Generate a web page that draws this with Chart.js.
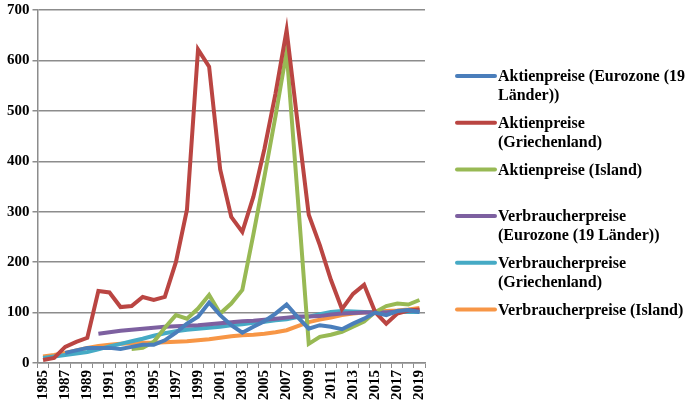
<!DOCTYPE html>
<html>
<head>
<meta charset="utf-8">
<script src="https://cdn.jsdelivr.net/npm/chart.js@4"></script>
<style>
  html, body { margin: 0; padding: 0; background: #fff; }
  #wrap { width: 685px; height: 403px; }
</style>
</head>
<body>
<div id="wrap"><canvas id="chart" width="685" height="403"></canvas></div>
<script>
const years = [];
for (let y = 1985; y <= 2019; y++) years.push(String(y));

// values, null where a series has no data
const aktienEurozone = [null, null, 20, 25, 30, 30, 30, 28, 32, 36, 36, 45, 60, 78, 92, 120, 95, 75, 60, 72, 83, 98, 116, 91, 68, 75, 72, 67, 78, 88, 100, 95, 103, 105, 101];
const aktienGriechenland = [6, 10, 32, 42, 50, 143, 140, 111, 113, 131, 125, 131, 200, 304, 622, 588, 384, 290, 260, 330, 425, 535, 660, 475, 294, 234, 165, 107, 137, 155, 101, 78, 98, 104, 106];
const aktienIsland = [null, null, null, null, null, null, null, null, 28, 30, 42, 70, 95, 88, 108, 135, 98, 118, 145, 255, 370, 490, 618, 330, 38, 52, 56, 62, 72, 82, 101, 113, 118, 116, 125];
const vpiEurozone = [null, null, null, null, null, 58, 61, 64, 66, 68, 70, 72, 73, 74, 75, 77, 79, 81, 83, 84, 86, 88, 90, 92, 92, 93, 96, 98, 99, 100, 100, 100, 102, 104, 105];
const vpiGriechenland = [10, 13, 16, 19, 22, 27, 33, 38, 43, 48, 54, 59, 63, 66, 68, 70, 72, 75, 77, 80, 82, 85, 87, 91, 92, 97, 101, 103, 102, 101, 100, 100, 101, 101, 101];
const vpiIsland = [13, 16, 20, 25, 30, 34, 36, 38, 39, 40, 40, 41, 42, 43, 45, 47, 50, 53, 55, 56, 58, 61, 65, 73, 81, 86, 90, 95, 98, 100, 101, 103, 104, 106, 109];

const seriesNames = [
  'Aktienpreise (Eurozone (19\nLänder))',
  'Aktienpreise\n(Griechenland)',
  'Aktienpreise (Island)',
  'Verbraucherpreise\n(Eurozone (19 Länder))',
  'Verbraucherpreise\n(Griechenland)',
  'Verbraucherpreise (Island)'
];
const seriesColors = ['#4A7EBB', '#BA4542', '#98B954', '#7D60A0', '#46AAC5', '#F79646'];
const seriesData = [aktienEurozone, aktienGriechenland, aktienIsland, vpiEurozone, vpiGriechenland, vpiIsland];

const serif = '"Liberation Serif", "Times New Roman", serif';

// legend drawn by hand so that long names can wrap like the original
const sideLegend = {
  id: 'sideLegend',
  afterDraw(chart) {
    const c = chart.ctx;
    c.save();
    c.font = 'bold 16px ' + serif;
    c.fillStyle = '#000';
    c.textBaseline = 'middle';
    chart.data.datasets.forEach((ds, i) => {
      const y = 76 + i * 46.7;
      c.strokeStyle = ds.borderColor;
      c.lineWidth = 4;
      c.lineCap = 'round';
      c.beginPath();
      c.moveTo(457, y);
      c.lineTo(495, y);
      c.stroke();
      ds.label.split('\n').forEach((line, k) => {
        c.fillText(line, 498, y + 1 + k * 19);
      });
    });
    c.restore();
  }
};

new Chart(document.getElementById('chart'), {
  type: 'line',
  data: {
    labels: years,
    datasets: seriesData.map((d, i) => ({
      label: seriesNames[i],
      data: d,
      borderColor: seriesColors[i],
      backgroundColor: seriesColors[i],
      borderWidth: 4,
      pointRadius: 0,
      tension: 0,
      fill: false
    }))
  },
  options: {
    responsive: false,
    animation: false,
    layout: { padding: { top: 0, right: 260, bottom: 1, left: 4 } },
    scales: {
      x: {
        offset: true,
        grid: { drawOnChartArea: false, drawTicks: true, tickLength: 5, offset: true, color: '#8c8c8c' },
        border: { color: '#8c8c8c', width: 1.5 },
        ticks: {
          autoSkip: false,
          maxRotation: 90,
          minRotation: 90,
          padding: 2,
          color: '#000',
          font: { family: serif, size: 15, weight: 'bold' },
          callback: function (v, i) { return i % 2 === 0 ? this.getLabelForValue(v) : ''; }
        }
      },
      y: {
        min: 0,
        max: 700,
        ticks: {
          stepSize: 100,
          padding: 3,
          color: '#000',
          font: { family: serif, size: 15, weight: 'bold', lineHeight: 0.95 }
        },
        grid: { color: '#8c8c8c', lineWidth: 1.5, tickLength: 5 },
        border: { color: '#8c8c8c', width: 1.5 }
      }
    },
    plugins: {
      legend: { display: false },
      tooltip: { enabled: false }
    }
  },
  plugins: [sideLegend]
});
</script>
</body>
</html>
